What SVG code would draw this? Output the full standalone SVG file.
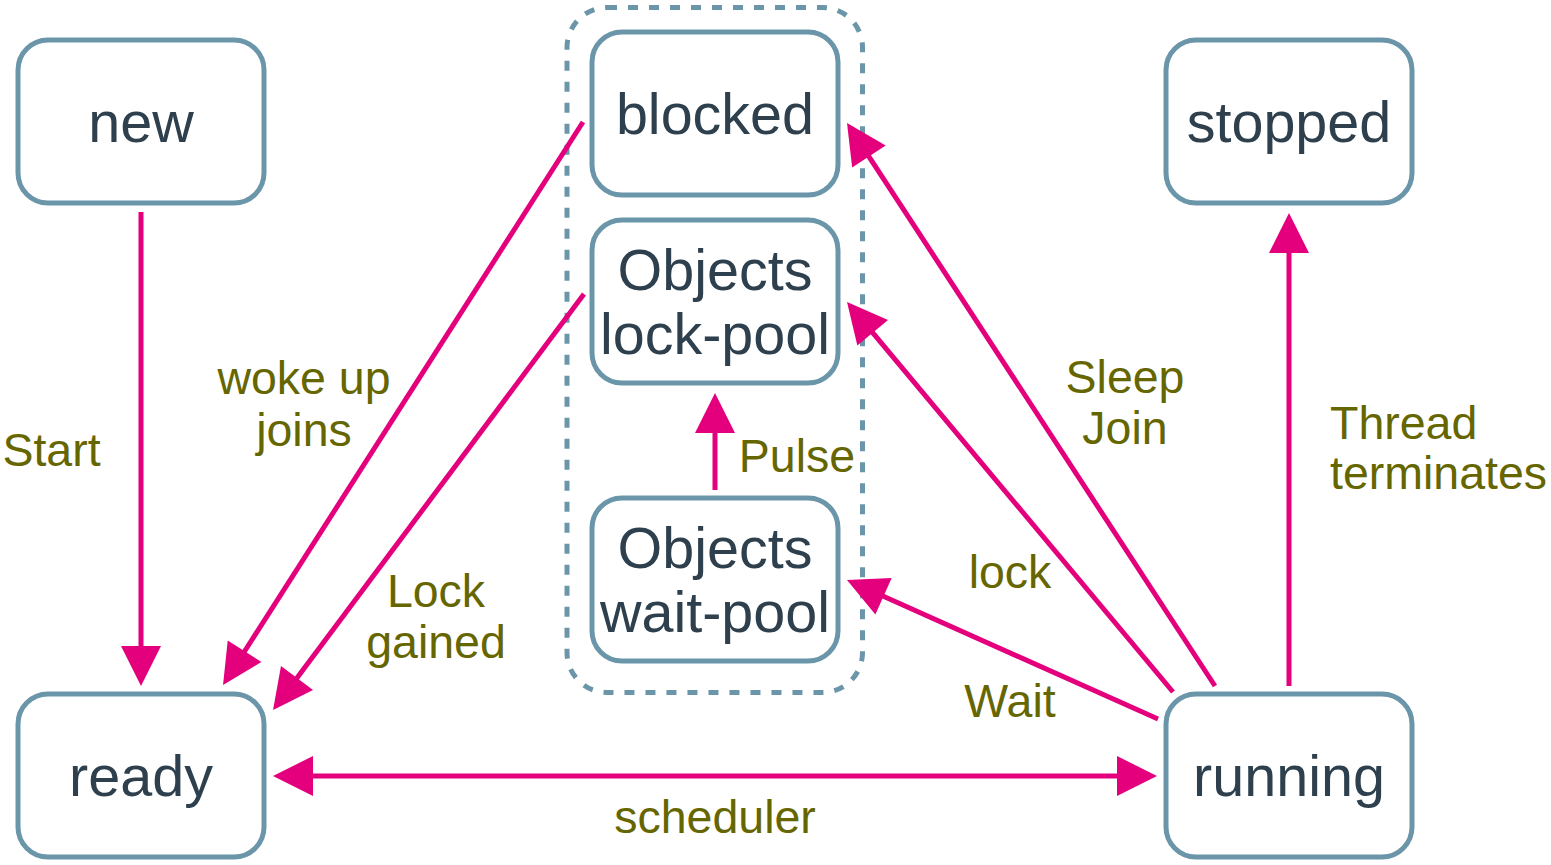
<svg xmlns="http://www.w3.org/2000/svg" width="1551" height="865" viewBox="0 0 1551 865">
<style>
.box{fill:#fff;stroke:#6b96aa;stroke-width:5}
.nt{font-family:"Liberation Sans",Arial,sans-serif;font-size:57.5px;fill:#2e404d;text-anchor:middle}
.lb{font-family:"Liberation Sans",Arial,sans-serif;font-size:46.5px;fill:#666600;text-anchor:middle}
.ln{stroke:#e4007c;stroke-width:5;fill:none;marker-end:url(#ah)}
</style>
<defs>
<marker id="ah" markerUnits="userSpaceOnUse" markerWidth="40" markerHeight="40" viewBox="0 -20 40 40" refX="2" refY="0" orient="auto-start-reverse" overflow="visible">
<path d="M0,-20 L40,0 L0,20 z" fill="#e4007c"/>
</marker>
</defs>
<rect x="0" y="0" width="1551" height="865" fill="#fff"/>
<g id="group">
<rect x="567" y="7.5" width="295.5" height="685" rx="40" fill="none" stroke="#6b96aa" stroke-width="5" stroke-dasharray="10 11"/>
</g>
<g id="new"><rect class="box" x="18" y="40" width="246" height="163" rx="30"/><text class="nt" x="141" y="142">new</text></g>
<g id="ready"><rect class="box" x="18" y="694" width="246" height="163" rx="30"/><text class="nt" x="141" y="796">ready</text></g>
<g id="stopped"><rect class="box" x="1166" y="40" width="246" height="163" rx="30"/><text class="nt" x="1289" y="142">stopped</text></g>
<g id="running"><rect class="box" x="1166" y="694" width="246" height="163" rx="30"/><text class="nt" x="1289" y="796">running</text></g>
<g id="blocked"><rect class="box" x="592" y="32" width="246" height="163" rx="30"/><text class="nt" x="715" y="134">blocked</text></g>
<g id="lockpool"><rect class="box" x="592" y="220" width="246" height="163" rx="30"/><text class="nt" x="715" y="290">Objects</text><text class="nt" x="715" y="353.5">lock-pool</text></g>
<g id="waitpool"><rect class="box" x="592" y="498" width="246" height="163" rx="30"/><text class="nt" x="715" y="568">Objects</text><text class="nt" x="715" y="631.5">wait-pool</text></g>
<g id="connectors">
<line class="ln" x1="141" y1="212" x2="141" y2="648"/>
<line class="ln" x1="583" y1="122" x2="243.5" y2="653"/>
<line class="ln" x1="584" y1="294" x2="295.8" y2="679.6"/>
<line class="ln" x1="311" y1="776" x2="1119" y2="776" style="marker-start:url(#ah)"/>
<line class="ln" x1="1215" y1="686" x2="867.8" y2="154.8"/>
<line class="ln" x1="1173" y1="692" x2="871.4" y2="331.2"/>
<line class="ln" x1="1158" y1="719" x2="881.7" y2="595.5"/>
<line class="ln" x1="715" y1="490" x2="715" y2="431"/>
<line class="ln" x1="1289" y1="686" x2="1289" y2="251"/>
</g>
<g id="labels">
<text class="lb" x="51.5" y="466">Start</text>
<text class="lb" x="304" y="394">woke up</text>
<text class="lb" x="304" y="446">joins</text>
<text class="lb" x="436" y="607">Lock</text>
<text class="lb" x="436" y="658">gained</text>
<text class="lb" x="797" y="472">Pulse</text>
<text class="lb" x="1125" y="393">Sleep</text>
<text class="lb" x="1125" y="444">Join</text>
<text class="lb" x="1010" y="588">lock</text>
<text class="lb" x="1010" y="717">Wait</text>
<text class="lb" x="1330" y="439" style="text-anchor:start">Thread</text>
<text class="lb" x="1330" y="489" style="text-anchor:start">terminates</text>
<text class="lb" x="715" y="833">scheduler</text>
</g>
</svg>
